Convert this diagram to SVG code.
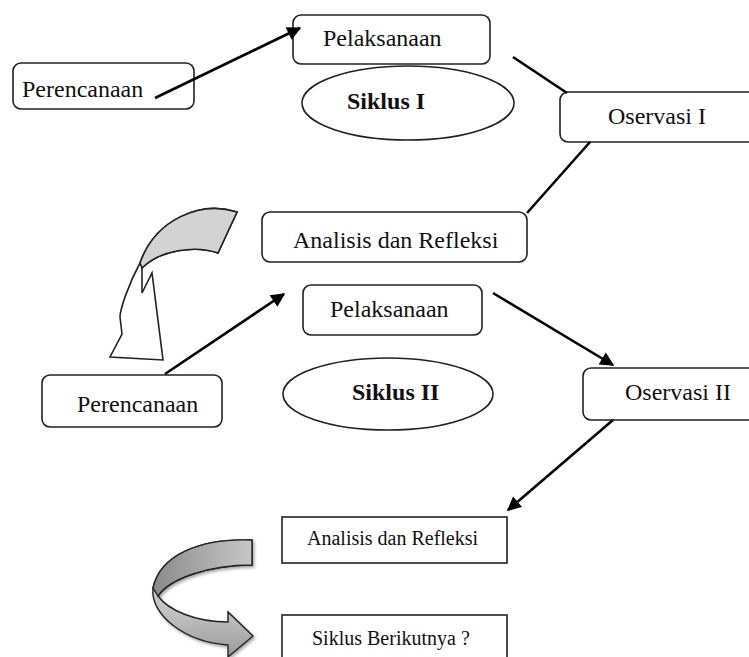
<svg xmlns="http://www.w3.org/2000/svg" width="749" height="657" viewBox="0 0 749 657">
<defs>
<style>
.box{fill:#fff;stroke:#222;stroke-width:1.6}
.t{font-family:"Liberation Serif","Times New Roman",serif;font-size:24px;fill:#111}
.tb{font-family:"Liberation Serif","Times New Roman",serif;font-size:24px;font-weight:bold;fill:#111}
.ts{font-family:"Liberation Serif","Times New Roman",serif;font-size:20px;fill:#111}
.ln{fill:none;stroke:#000;stroke-width:2.6}
.ar{fill:none;stroke:#000;stroke-width:2.6;marker-end:url(#ah)}
</style>
<marker id="ah" viewBox="0 0 10 10" refX="9" refY="5" markerUnits="userSpaceOnUse" markerWidth="16" markerHeight="14" orient="auto">
<path d="M0,0 L10,5 L0,10 z" fill="#000"/>
</marker>
<linearGradient id="gUp" x1="0" y1="0" x2="1" y2="0">
<stop offset="0" stop-color="#8a8a8a"/>
<stop offset="0.5" stop-color="#a9a9a9"/>
<stop offset="1" stop-color="#c6c6c6"/>
</linearGradient>
<linearGradient id="gLow" x1="0" y1="0" x2="0" y2="1">
<stop offset="0" stop-color="#dcdcdc"/>
<stop offset="0.6" stop-color="#c4c4c4"/>
<stop offset="1" stop-color="#9a9a9a"/>
</linearGradient>
<filter id="shadow" x="-20%" y="-20%" width="140%" height="140%">
<feDropShadow dx="1.5" dy="2" stdDeviation="1.5" flood-color="#000" flood-opacity="0.35"/>
</filter>
</defs>

<g id="perencanaan1">
<rect class="box" x="13" y="63" width="181" height="46" rx="8"/>
<text class="t" x="22" y="97">Perencanaan</text>
</g>
<g id="pelaksanaan1">
<rect class="box" x="293" y="15" width="197" height="49" rx="8"/>
<text class="t" x="323" y="46">Pelaksanaan</text>
</g>
<g id="siklus1">
<ellipse class="box" cx="408" cy="103" rx="106" ry="37"/>
<text class="tb" x="347" y="109">Siklus I</text>
</g>
<g id="oservasi1">
<rect class="box" x="560" y="92" width="200" height="50" rx="8"/>
<text class="t" x="608" y="124">Oservasi I</text>
</g>
<g id="analisis1">
<rect class="box" x="262" y="212" width="265" height="50" rx="8"/>
<text class="t" x="293" y="248">Analisis dan Refleksi</text>
</g>

<g id="curved-arrow-1">
<path d="M237,212 C200,200 155,220 140,263 C128,285 120,310 120,317 L122,334 L110,357 L163,360 L152,273 L142,293 L142,268 C160,250 195,245 218,253 Z" fill="#fff" stroke="#222" stroke-width="1.6" stroke-linejoin="miter"/>
<path d="M237,212 C200,200 155,220 140,263 L142,268 C160,250 195,245 218,253 Z" fill="#d3d3d3" stroke="#222" stroke-width="1.6"/>
</g>

<g id="perencanaan2">
<rect class="box" x="42" y="375" width="180" height="52" rx="8"/>
<text class="t" x="77" y="412">Perencanaan</text>
</g>
<g id="pelaksanaan2">
<rect class="box" x="303" y="285" width="179" height="50" rx="8"/>
<text class="t" x="330" y="317">Pelaksanaan</text>
</g>
<g id="siklus2">
<ellipse class="box" cx="388" cy="394" rx="105" ry="36"/>
<text class="tb" x="352" y="400">Siklus II</text>
</g>
<g id="oservasi2">
<rect class="box" x="583" y="368" width="180" height="52" rx="8"/>
<text class="t" x="625" y="400">Oservasi II</text>
</g>
<g id="analisis2">
<rect class="box" x="282" y="517" width="225" height="46"/>
<text class="ts" x="307" y="545">Analisis dan Refleksi</text>
</g>
<g id="siklus-berikutnya">
<rect class="box" x="282" y="615" width="225" height="60"/>
<text class="ts" x="312" y="645">Siklus Berikutnya ?</text>
</g>

<g id="curved-arrow-2" filter="url(#shadow)">
<path d="M252,540 C200,538 160,555 153,588 C150,615 185,642 228,645 L228,657 L253,636 L228,612 L228,622 C195,622 168,610 158,596 C170,578 210,565 252,565 Z" fill="url(#gLow)" stroke="#222" stroke-width="1.4" stroke-linejoin="miter"/>
<path d="M252,540 C200,538 160,555 153,588 L158,596 C170,578 210,565 252,565 Z" fill="url(#gUp)" stroke="#222" stroke-width="1.4"/>
</g>

<g id="connectors">
<line class="ar" x1="155" y1="98" x2="300" y2="28"/>
<line class="ln" x1="513" y1="57" x2="567" y2="93"/>
<line class="ln" x1="590" y1="142" x2="527" y2="213"/>
<line class="ar" x1="165" y1="374" x2="284" y2="294"/>
<line class="ar" x1="493" y1="293" x2="613" y2="365"/>
<line class="ar" x1="613" y1="420" x2="508" y2="510"/>
</g>
</svg>
